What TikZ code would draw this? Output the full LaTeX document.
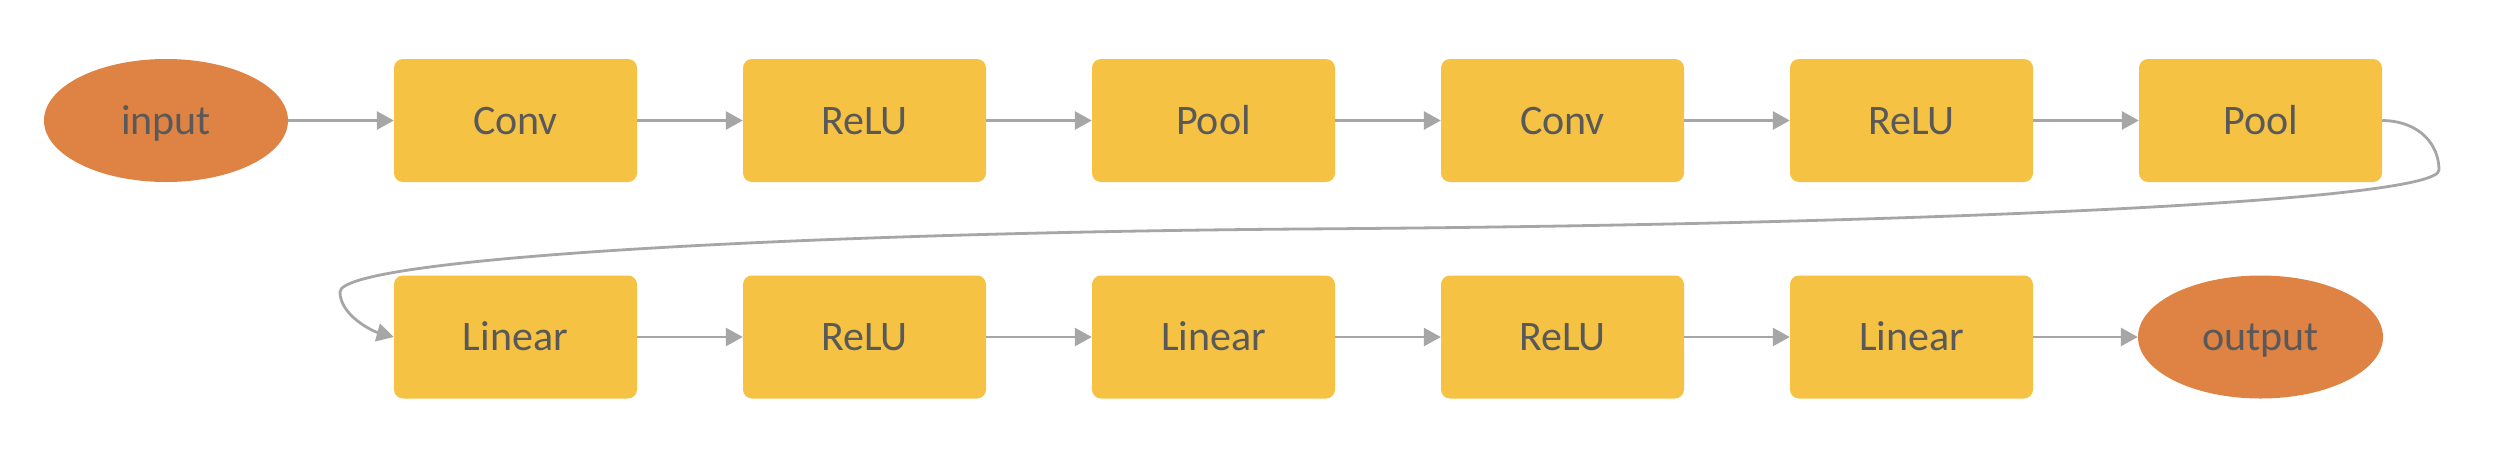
\documentclass[tikz,border=0pt]{standalone}
\usepackage{fontspec}
\setmainfont{Carlito}
\usetikzlibrary{arrows.meta,shapes.geometric}
\definecolor{boxfill}{HTML}{F5C243}
\definecolor{ellfill}{HTML}{DF8344}
\definecolor{txt}{HTML}{595959}
\definecolor{conn}{HTML}{A6A6A6}
\begin{document}
\begin{tikzpicture}[x=1pt,y=-1pt,
  layerbox/.style={draw=none,fill=boxfill,rounded corners=9pt,minimum width=243pt,minimum height=123pt,inner sep=0pt,
    font=\fontsize{42pt}{50pt}\selectfont,text=txt,text height=27pt,text depth=0pt},
  ioell/.style={ellipse,draw=none,fill=ellfill,minimum width=244pt,minimum height=123pt,inner sep=0pt,
    font=\fontsize{42pt}{50pt}\selectfont,text=txt,text height=27pt,text depth=0pt},
  link/.style={draw=conn,line width=2.8pt,-{Triangle[length=17pt,width=18pt]}}]
\useasboundingbox[fill=white] (0,0) rectangle (2504,456);
\node[ioell] (in) at (166,120.5) {input};
\node[layerbox] (c1) at (515.5,120.5) {Conv};
\node[layerbox] (r1) at (864.5,120.5) {ReLU};
\node[layerbox] (p1) at (1213.5,120.5) {Pool};
\node[layerbox] (c2) at (1562.5,120.5) {Conv};
\node[layerbox] (r2) at (1911.5,120.5) {ReLU};
\node[layerbox] (p2) at (2260.5,120.5) {Pool};
\node[layerbox] (l1) at (515.5,337) {Linear};
\node[layerbox] (r3) at (864.5,337) {ReLU};
\node[layerbox] (l2) at (1213.5,337) {Linear};
\node[layerbox] (r4) at (1562.5,337) {ReLU};
\node[layerbox] (l3) at (1911.5,337) {Linear};
\node[ioell,minimum width=245pt] (out) at (2260.5,337) {output};
\draw[link] (in) -- (c1);
\draw[link] (c1) -- (r1);
\draw[link] (r1) -- (p1);
\draw[link] (p1) -- (c2);
\draw[link] (c2) -- (r2);
\draw[link] (r2) -- (p2);
\draw[link] (l1) -- (r3);
\draw[link] (r3) -- (l2);
\draw[link] (l2) -- (r4);
\draw[link] (r4) -- (l3);
\draw[link] (l3) -- (out);
\coordinate (turnR) at (2439,170);
\coordinate (midC) at (1300,229);
\coordinate (turnL) at (340,292);
\draw[link] (p2.east) .. controls (2420,121) and (2439,145) .. (turnR)
  .. controls (2439,202) and (1900,225) .. (midC)
  .. controls (800,233) and (340,258) .. (turnL)
  .. controls (340,315) and (372,331) .. (l1.west);
\end{tikzpicture}
\end{document}
